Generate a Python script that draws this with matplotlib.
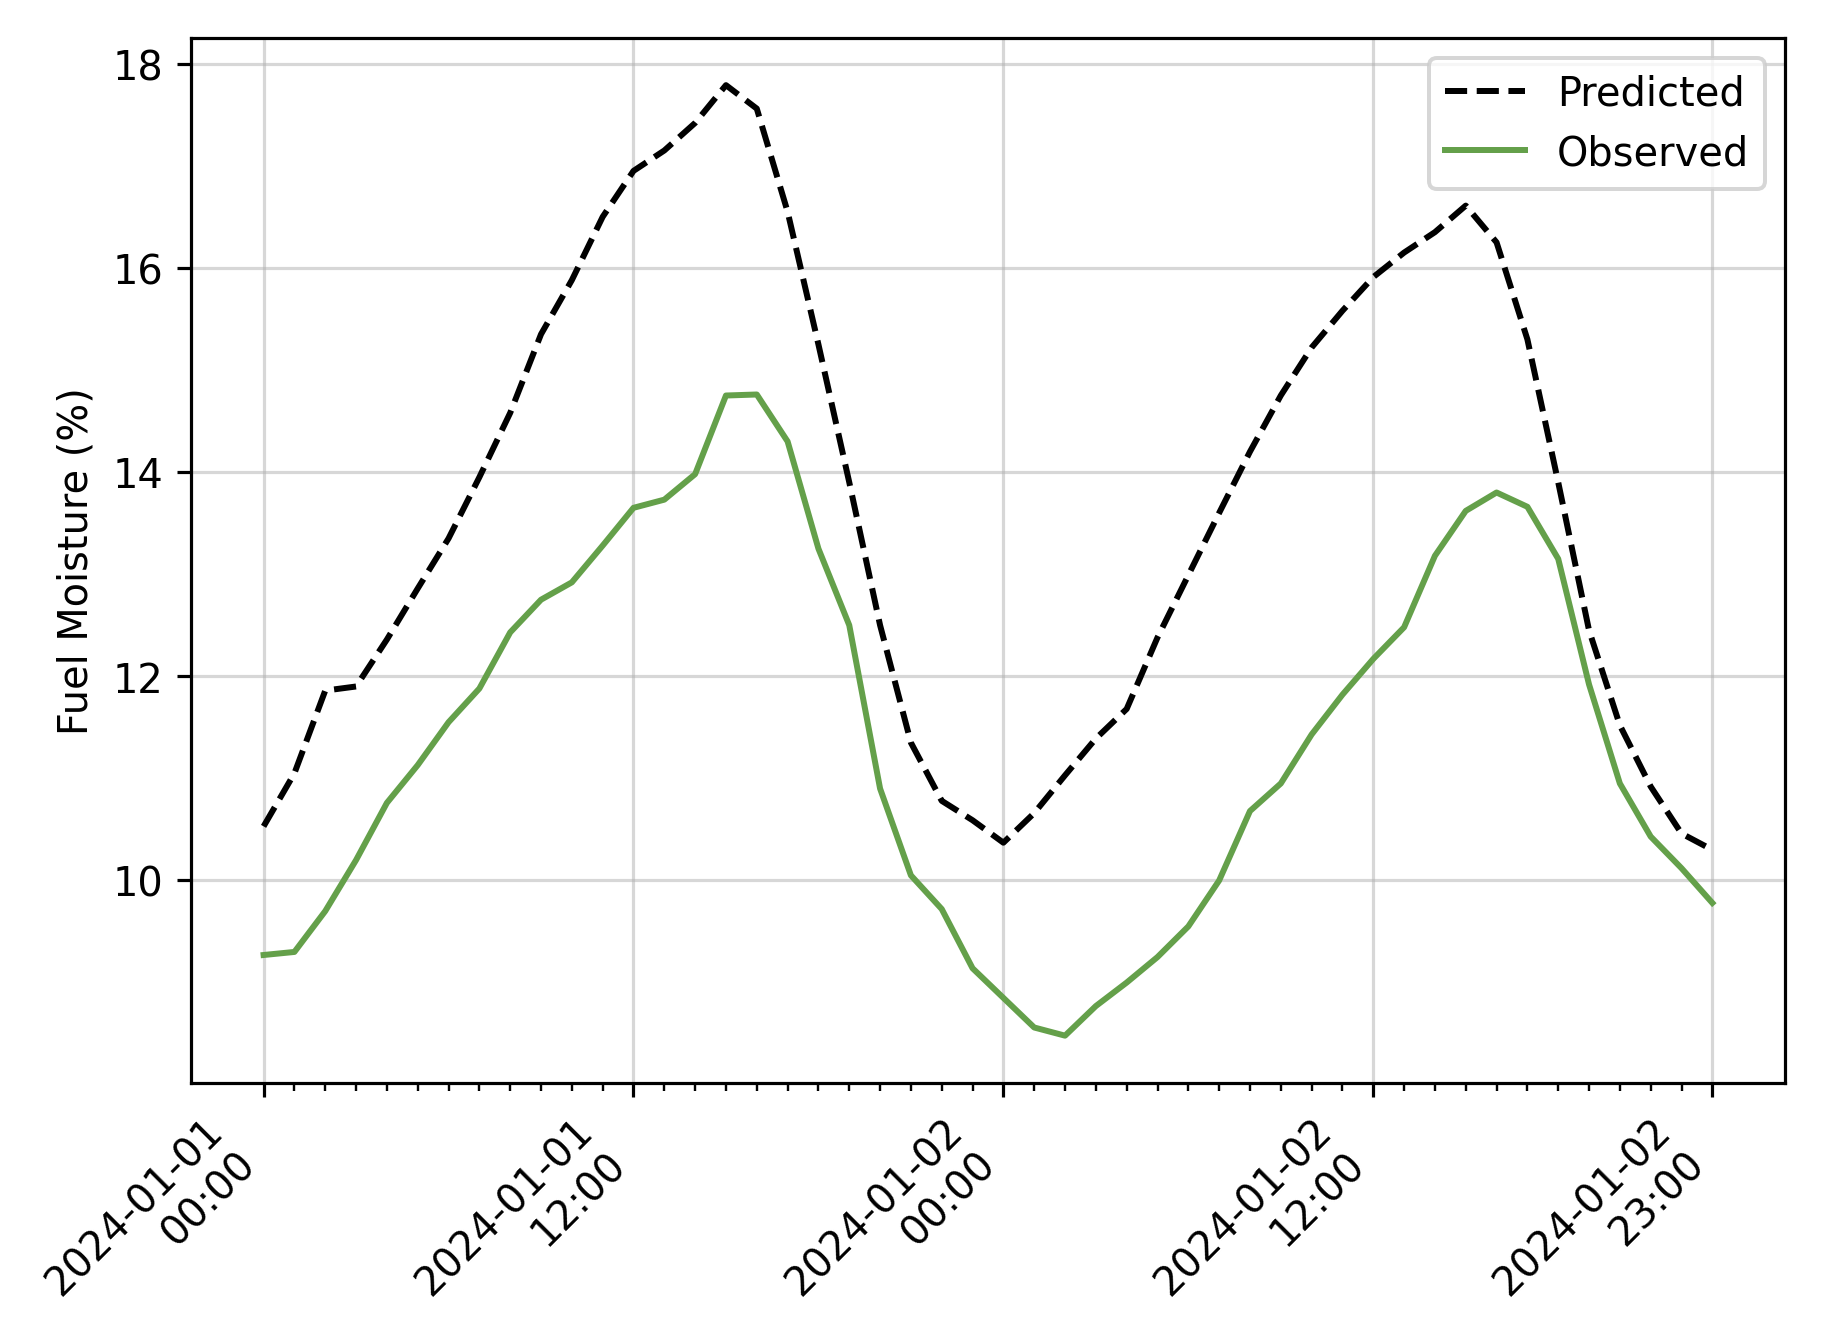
import matplotlib
matplotlib.use("Agg")
import matplotlib.pyplot as plt
import matplotlib.dates as mdates
from matplotlib.ticker import FixedLocator
import pandas as pd
import numpy as np

times = pd.date_range("2024-01-01 00:00", periods=48, freq="h")

predicted = [10.53, 11.05, 11.86, 11.90, 12.36, 12.86, 13.35, 13.95, 14.58, 15.35,
             15.88, 16.50, 16.95, 17.15, 17.42, 17.79, 17.56, 16.55, 15.25, 13.90,
             12.50, 11.35, 10.78, 10.59, 10.37, 10.66, 11.03, 11.39, 11.68, 12.38,
             12.99, 13.60, 14.20, 14.75, 15.22, 15.58, 15.91, 16.15, 16.35, 16.61,
             16.25, 15.30, 13.90, 12.45, 11.52, 10.92, 10.46, 10.30]

observed = [9.27, 9.30, 9.70, 10.20, 10.76, 11.13, 11.55, 11.88, 12.43, 12.75,
            12.92, 13.28, 13.65, 13.73, 13.98, 14.75, 14.76, 14.30, 13.25, 12.50,
            10.90, 10.05, 9.72, 9.14, 8.85, 8.56, 8.48, 8.77, 9.00, 9.25,
            9.55, 10.00, 10.68, 10.95, 11.43, 11.82, 12.17, 12.48, 13.18, 13.62,
            13.80, 13.66, 13.15, 11.92, 10.95, 10.43, 10.12, 9.78]

major_idx = [0, 12, 24, 36, 47]
y_ticks = [10, 12, 14, 16, 18]

fig = plt.figure(figsize=(6.4, 4.62), dpi=287.2)
ax = fig.add_axes([0.104, 0.183, 0.867, 0.788])

ax.plot(times, predicted, "k--", lw=1.5, label="Predicted")
ax.plot(times, observed, color="#64a04a", lw=1.5, label="Observed")

ax.set_xticks([times[i] for i in major_idx])
ax.xaxis.set_major_formatter(mdates.DateFormatter("%Y-%m-%d\n%H:%M"))
ax.xaxis.set_minor_locator(FixedLocator(mdates.date2num(times.to_pydatetime())))
plt.setp(ax.get_xticklabels(), rotation=45, ha="right")

ax.set_yticks(y_ticks)
ax.set_ylabel("Fuel Moisture (%)")
ax.grid(True, which="major", alpha=0.5)
ax.legend(loc="upper right")

fig.savefig("out.png", dpi=287.2)
